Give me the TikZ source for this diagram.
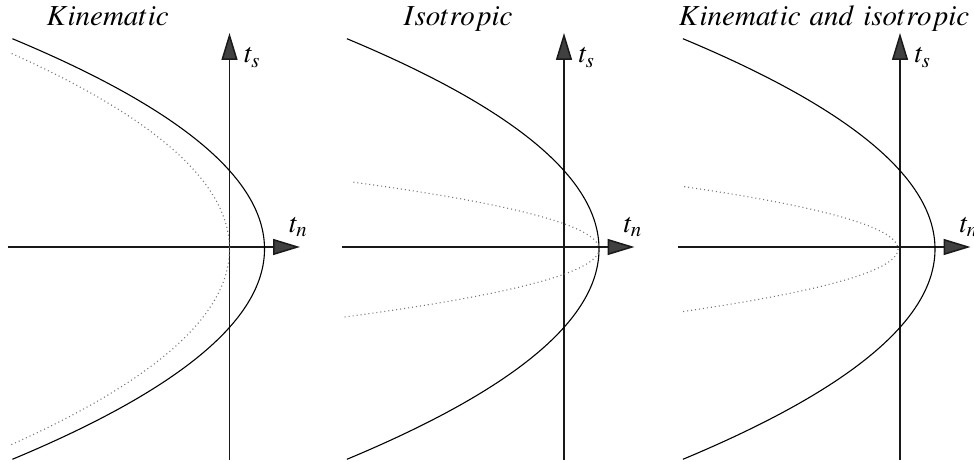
\documentclass[tikz,border=0pt]{standalone}
\usepackage{mathptmx}
\usetikzlibrary{calc,arrows.meta}
\tikzstyle{axis}=[line width=1.5pt, black!90, -{Triangle[length=27pt,width=16pt,fill=black!75]}]
\tikzstyle{yieldsurf}=[line width=1.1pt, black]
\tikzstyle{oldsurf}=[line width=1.1pt, black!55, dash pattern=on 1pt off 3pt]
\tikzstyle{lbl}=[inner sep=0, anchor=base west, font=\fontsize{28}{30}\selectfont]
\tikzstyle{ttl}=[inner sep=0, anchor=base, font=\fontsize{29}{31}\selectfont]

\begin{document}
\begin{tikzpicture}[x=10pt,y=10pt]
\useasboundingbox (0,0) rectangle (97.4,46.1);
\foreach \p/\ox/\dx/\dk/\dlo/\dhi in {1/22.95/0/0.057/-19.76/19.36,2/56.4/3.5/0.55/-7.0/6.5,3/90.0/-0.2/0.55/-6.45/6.05}
{
\begin{scope}[shift={(\ox,21.4)}]
\coordinate (W\p) at (-22.2,0);
\coordinate (E\p) at (7.05,0);
\coordinate (S\p) at (0,-21.3);
\coordinate (N\p) at (0,21.4);
\draw[axis] (W\p) -- (E\p);
\draw[axis] (S\p) -- (N\p);
\node[lbl] (ts\p) at (1.45,18.4) {$t_s$};
\node[lbl] (tn\p) at (5.95,1.5) {$t_n$};
\draw[yieldsurf] plot[domain=-21.23:20.83, samples=90, smooth] ({3.5-0.057*(\x+0.2)^2}, \x);
\draw[oldsurf] plot[domain=\dlo:\dhi, samples=90, smooth] ({\dx-\dk*(\x+0.2)^2}, \x);
\end{scope}
}
\node[ttl] (kin) at (10.77,43.5) {$Kinematic$};
\node[ttl] (iso) at (45.8,43.5) {$Isotropic$};
\node[ttl] (kiniso) at (82.4,43.5) {$Kinematic\ and\ isotropic$};
\end{tikzpicture}
\end{document}
